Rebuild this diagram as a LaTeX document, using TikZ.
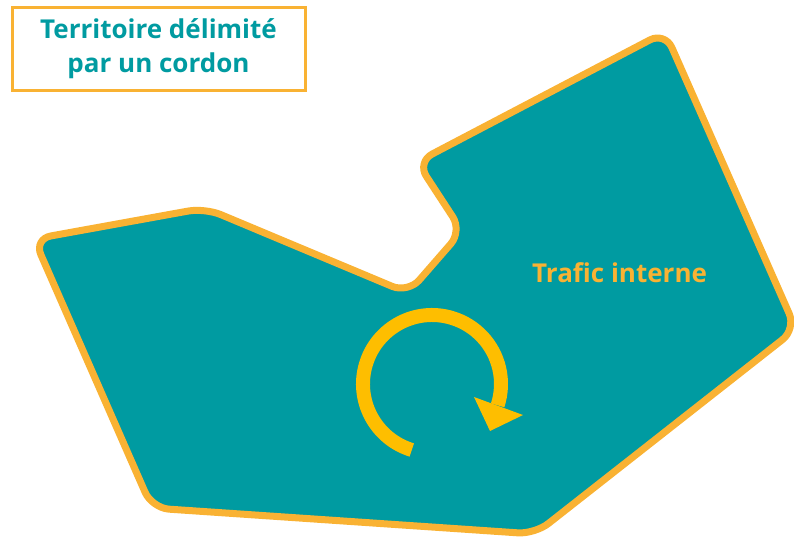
\documentclass[tikz,border=0pt]{standalone}
\usepackage{fontspec}
\setmainfont{Open Sans}
\definecolor{teal1}{HTML}{009BA1}
\definecolor{edge}{HTML}{F9B233}
\definecolor{arrowc}{HTML}{FEBE00}
\tikzset{
  zone/.style={fill=teal1, draw=edge, line width=7pt, rounded corners=17pt, line join=round},
  titlebox/.style={draw=edge, line width=3pt, fill=white, minimum width=293pt, minimum height=83pt, align=center, font=\bfseries\fontsize{26}{34}\selectfont, text=teal1, inner sep=0pt},
  lbl/.style={font=\bfseries\fontsize{26}{30}\selectfont, text=edge, inner sep=0pt},
}
\begin{document}
\begin{tikzpicture}[x=1pt,y=-1pt]
\useasboundingbox (0,0) rectangle (794,538);
\clip (0,0) rectangle (794,538);
\draw[zone] (34,239) -- (205,208) -- (408,293) -- (462,231) -- (417,162) -- (665,32) -- (796,329) -- (535,534) -- (152,508) -- cycle;
\node[titlebox] (title) at (158.5,48.5) {Territoire délimité\\par un cordon};
\node[lbl, anchor=base west] (traf) at (532,282) {Trafic interne};
\coordinate (c) at (432,384);
\draw[arrowc, line width=14pt] ([shift={(-253:69)}]c) arc[start angle=-253, end angle=18, radius=69];
\fill[arrowc] (474,397) -- (523,415) -- (490,431) -- cycle;
\end{tikzpicture}
\end{document}
